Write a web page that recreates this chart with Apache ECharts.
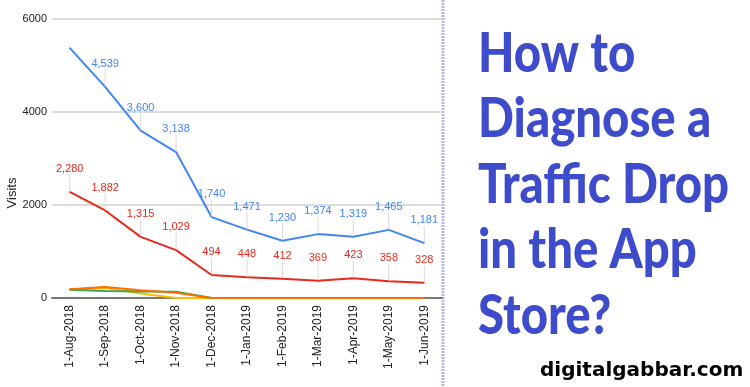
<!DOCTYPE html>
<html><head><meta charset="utf-8">
<script src="https://cdn.jsdelivr.net/npm/echarts@6/dist/echarts.min.js"></script>
<style>html,body{margin:0;padding:0;background:#fff}#c{width:750px;height:387px}</style>
</head><body><div id="c"></div>
<script>
var categories = ['1-Aug-2018','1-Sep-2018','1-Oct-2018','1-Nov-2018','1-Dec-2018','1-Jan-2019','1-Feb-2019','1-Mar-2019','1-Apr-2019','1-May-2019','1-Jun-2019'];
var blueVals = [5380, 4539, 3600, 3138, 1740, 1471, 1230, 1374, 1319, 1465, 1181];
var redVals = [2280, 1882, 1315, 1029, 494, 448, 412, 369, 423, 358, 328];
var yellowVals = [185, 215, 95, 0, 0, 0, 0, 0, 0, 0, 0];
var greenVals = [175, 150, 140, 135, 0, 0, 0, 0, 0, 0, 0];
var orangeVals = [190, 235, 165, 115, 0, 0, 0, 0, 0, 0, 0];
var yTicks = [0, 2000, 4000, 6000];
var titleLines = ['How to', 'Diagnose a', 'Traffic Drop', 'in the App', 'Store?'];
var siteText = 'digitalgabbar.com';
var axisTitle = 'Visits';

var chart = echarts.init(document.getElementById('c'), null, {renderer: 'canvas'});
var FONT = 'Arial, "Liberation Sans", sans-serif';
var NARROW = '"Liberation Sans Narrow", "Arial Narrow", ' + FONT;

function labeled(vals, hideFirst) {
  return vals.map(function (v, i) {
    if (hideFirst && i === 0) return {value: v, label: {show: false}, labelLine: {show: false}};
    return v;
  });
}
function fmt(p) { return Number(p.value).toLocaleString('en-US'); }

function lineSeries(name, data, color, withLabels, z) {
  var s = {
    name: name, type: 'line', data: data, z: z,
    symbol: 'circle', symbolSize: 1, showSymbol: true,
    lineStyle: {color: color, width: 2},
    itemStyle: {color: color},
    emphasis: {disabled: true},
    silent: true
  };
  if (withLabels) {
    s.label = {show: true, position: 'top', distance: 5, formatter: fmt,
      color: color, fontSize: 11, fontFamily: NARROW};
    s.labelLayout = {dy: -12};
    s.labelLine = {show: true, length2: 0, lineStyle: {color: '#dadada', width: 1}};
  } else {
    s.label = {show: false};
  }
  return s;
}

var graphics = [
  {type: 'line', shape: {x1: 443, y1: 0, x2: 443, y2: 387},
   style: {stroke: '#b6b6e8', lineWidth: 3, lineDash: [2, 1]}},
  {type: 'text', x: 12, y: 193, rotation: Math.PI / 2,
   style: {text: axisTitle, font: '13px ' + FONT, fill: '#222',
     textAlign: 'center', textVerticalAlign: 'middle', align: 'center', verticalAlign: 'middle'}},
  {type: 'text', x: 540, y: 371,
   style: {text: siteText, font: 'bold 20px "DejaVu Sans"', fill: '#000',
     textAlign: 'left', textVerticalAlign: 'middle', align: 'left', verticalAlign: 'middle'}}
];
titleLines.forEach(function (t, i) {
  graphics.push({type: 'text', x: 478, y: 54 + 65.5 * i, scaleX: 0.86,
    style: {text: t, font: '900 55px Lato', fill: '#3e4bcb',
      textAlign: 'left', textVerticalAlign: 'middle', align: 'left', verticalAlign: 'middle'}});
});

chart.setOption({
  animation: false,
  backgroundColor: '#fff',
  grid: {left: 52, right: 308, top: 19, bottom: 89, containLabel: false},
  xAxis: {
    type: 'category', data: categories, boundaryGap: true,
    axisLine: {show: true, onZero: true, lineStyle: {color: '#777', width: 2}},
    axisTick: {show: false},
    axisLabel: {rotate: 90, margin: 7, fontSize: 12, color: '#222', fontFamily: FONT, interval: 0},
    splitLine: {show: false}
  },
  yAxis: {
    type: 'value', min: yTicks[0], max: yTicks[yTicks.length - 1], interval: 2000,
    axisLine: {show: false}, axisTick: {show: false},
    axisLabel: {margin: 5, fontSize: 11, color: '#222', fontFamily: NARROW,
      formatter: function (v) { return String(v); }},
    splitLine: {show: true, lineStyle: {color: '#dcdcdc', width: 2}}
  },
  series: [
    lineSeries('Blue', labeled(blueVals, true), '#4285F4', true, 3),
    lineSeries('Red', labeled(redVals, false), '#E8291C', true, 3),
    lineSeries('Yellow', yellowVals, '#FBBC04', false, 4),
    lineSeries('Green', greenVals, '#34A853', false, 5),
    lineSeries('Orange', orangeVals, '#FF6D01', false, 6)
  ],
  graphic: graphics
});
</script>
</body></html>
